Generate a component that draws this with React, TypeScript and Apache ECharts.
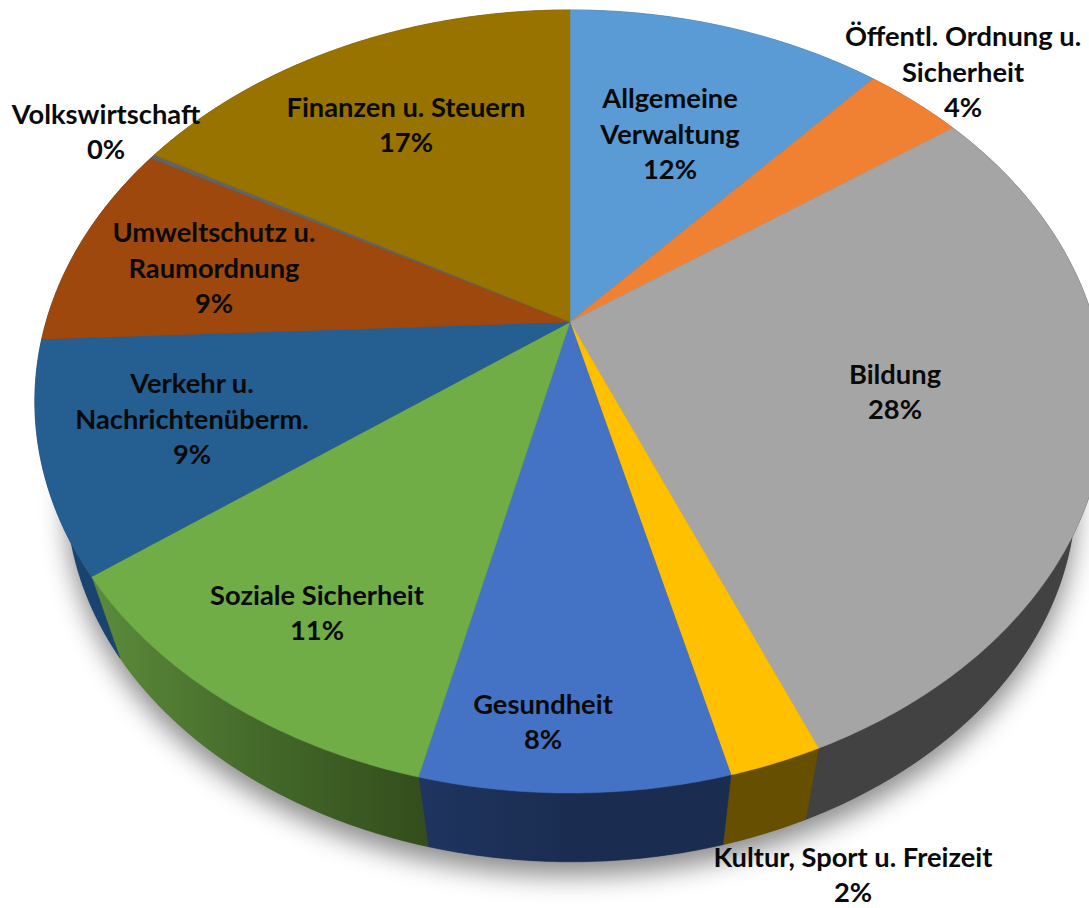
import React, { useEffect, useRef } from "react";
import * as echarts from "echarts";

const categories = [
  ["Allgemeine", "Verwaltung"],
  ["Öffentl. Ordnung u.", "Sicherheit"],
  ["Bildung"],
  ["Kultur, Sport u. Freizeit"],
  ["Gesundheit"],
  ["Soziale Sicherheit"],
  ["Verkehr u.", "Nachrichtenüberm."],
  ["Umweltschutz u.", "Raumordnung"],
  ["Volkswirtschaft"],
  ["Finanzen u. Steuern"],
];
const shares = [11.6, 3.6, 28.5, 2.33, 7.7, 11.1, 9.45, 8.66, 0.2, 16.86];
const percentLabels = ["12%", "4%", "28%", "2%", "8%", "11%", "9%", "9%", "0%", "17%"];

const topColors = ["#5B9BD5", "#F08032", "#A5A5A5", "#FFC000", "#4472C4", "#70AD47", "#255E91", "#9E480E", "#636363", "#997300"];
const sideColors: any[] = [
  "#2f5f8f", "#8f4a1c", "#424242", "#665000",
  ["#1f3560", "#1a2c50", "#1a2c50"],
  ["#5c8c3a", "#44692a", "#334d1c"],
  "#1a4470", "#5e2b08", "#3c3c3c", "#5c4500",
];
const labelCenters = [
  [670, 133], [963, 71], [895, 391], [853, 874], [543, 721],
  [317, 612], [192, 418], [214, 267], [106, 131], [406, 124],
];

// projection of the tilted disc onto the page
const CX = 570, CY = 322, A = 524, B = 375.4, K = 0.203;
const VX = 590, VY = 2000, S = 0.943;
const STEP = 0.5;
const LINE_GAP = 35.4;

const total = shares.reduce((s, v) => s + v, 0);
const rim = (deg: number): number[] => {
  const t = (deg * Math.PI) / 180;
  const d = 1 + K * Math.cos(t);
  return [CX + (A * Math.sin(t)) / d, CY - (B * Math.cos(t)) / d];
};
const lower = (p: number[]): number[] => [VX + S * (p[0] - VX), VY + S * (p[1] - VY)];
const arcPoints = (from: number, to: number): number[][] => {
  const pts: number[][] = [];
  for (let a = from; a < to; a += STEP) pts.push(rim(a));
  pts.push(rim(to));
  return pts;
};
const sliceRange = (i: number): number[] => {
  let before = 0;
  for (let j = 0; j < i; j++) before += shares[j];
  return [(before / total) * 360, ((before + shares[i]) / total) * 360];
};
const sideFill = (c: any) =>
  Array.isArray(c)
    ? new echarts.graphic.LinearGradient(0, 0, 1, 0, c.map((color: string, n: number) => ({ offset: n / (c.length - 1), color })))
    : c;

const shadowItem = (params: any) => {
  if (params.dataIndex !== 0) return { type: "group", children: [] };
  return {
    type: "polygon",
    shape: { points: arcPoints(0, 360).map(lower) },
    style: { fill: "#555", shadowBlur: 26, shadowOffsetX: 0, shadowOffsetY: 14, shadowColor: "rgba(0,0,0,0.45)" },
  };
};
const sideItem = (params: any) => {
  const [from, to] = sliceRange(params.dataIndex);
  const top = arcPoints(from, to);
  const c = sideFill(sideColors[params.dataIndex]);
  return {
    type: "polygon",
    shape: { points: top.concat(top.map(lower).reverse()) },
    style: { fill: c, stroke: c, lineWidth: 0.5 },
  };
};
const topItem = (params: any) => {
  const [from, to] = sliceRange(params.dataIndex);
  const c = topColors[params.dataIndex];
  return {
    type: "polygon",
    shape: { points: [[CX, CY]].concat(arcPoints(from, to)) },
    style: { fill: c, stroke: c, lineWidth: 0.5 },
  };
};

const labelElements = () =>
  categories.flatMap((lines, i) => {
    const all = lines.concat(percentLabels[i]);
    return all.map((text, n) => ({
      type: "text",
      x: labelCenters[i][0],
      y: labelCenters[i][1] + (n - (all.length - 1) / 2) * LINE_GAP,
      z: 100,
      silent: true,
      style: {
        text,
        align: "center",
        verticalAlign: "middle",
        fontFamily: "Lato",
        fontWeight: 700,
        fontSize: 27.3,
        lineHeight: 24,
        fill: "#0a0a0a",
      },
    }));
  });

export default function App() {
  const ref = useRef<HTMLDivElement>(null);
  useEffect(() => {
    const chart = echarts.init(ref.current!, null, { renderer: "svg" });
    chart.setOption({
      animation: false,
      backgroundColor: "#ffffff",
      series: [
        { type: "custom", coordinateSystem: "none", z: 1, silent: true, data: shares, renderItem: shadowItem },
        { type: "custom", coordinateSystem: "none", z: 2, silent: true, data: shares, renderItem: sideItem },
        { type: "custom", coordinateSystem: "none", z: 3, silent: true, data: shares, renderItem: topItem },
      ],
      graphic: labelElements(),
    });
    return () => chart.dispose();
  }, []);
  return <div ref={ref} style={{ position: "fixed", left: 0, top: 0, width: 1089, height: 908 }} />;
}
